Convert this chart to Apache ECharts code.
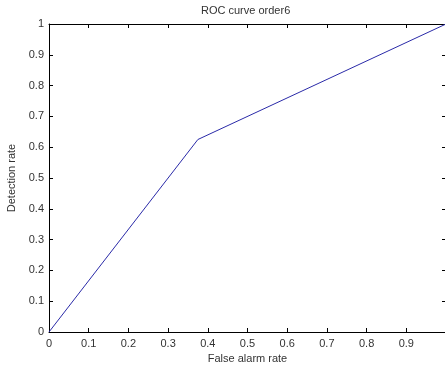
<!DOCTYPE html>
<html><head><meta charset="utf-8">
<script src="https://cdn.jsdelivr.net/npm/echarts@6/dist/echarts.min.js"></script>
<style>html,body{margin:0;padding:0;background:#fff}#c{width:445px;height:369px}</style>
</head><body><div id="c"></div>
<script>
var falseAlarm = [0, 0.375, 1];
var detection = [0, 0.625, 1];
var xTicks = ['0','0.1','0.2','0.3','0.4','0.5','0.6','0.7','0.8','0.9',''];
var yTicks = ['0','0.1','0.2','0.3','0.4','0.5','0.6','0.7','0.8','0.9','1'];
var titleText = 'ROC curve order6';
var xName = 'False alarm rate';
var yName = 'Detection rate';

var data = falseAlarm.map(function(x,i){return [x, detection[i]];});
var font = 'Liberation Sans, Arial, sans-serif';
var txt = '#333';
var chart = echarts.init(document.getElementById('c'), null, {renderer:'canvas'});
function lbl(arr){return function(v){var i=Math.round(v*10);return arr[i]!==undefined?arr[i]:'';};}
var tick = {show:true,inside:true,length:4,lineStyle:{color:'#000',width:1}};
function axisBase(pos){
  return {type:'value',min:0,max:1,interval:0.1,position:pos,
    axisLine:{show:true,onZero:false,lineStyle:{color:'#000',width:1}},axisTick:tick,
    axisLabel:{show:false},splitLine:{show:false}};
}
var xb = axisBase('bottom');
xb.name = xName; xb.nameLocation='middle'; xb.nameGap=20;
xb.nameTextStyle={fontFamily:font,fontSize:11,color:txt};
xb.axisLabel={show:true,formatter:lbl(xTicks),fontFamily:font,fontSize:11,color:txt,margin:6};
var yl = axisBase('left');
yl.name = yName; yl.nameLocation='middle'; yl.nameGap=21;
yl.nameTextStyle={fontFamily:font,fontSize:11,color:txt};
yl.axisLabel={show:true,formatter:lbl(yTicks),fontFamily:font,fontSize:11,color:txt,margin:5};
chart.setOption({
  animation:false,
  backgroundColor:'#fff',
  title:{text:titleText,left:201,top:5,padding:0,textStyle:{fontFamily:font,fontSize:11,fontWeight:'normal',color:txt}},
  grid:{left:49,width:397,top:24,height:308,containLabel:false,outerBoundsMode:'none'},
  xAxis:[xb, axisBase('top')],
  yAxis:[yl, axisBase('right')],
  series:[{type:'line',data:data,xAxisIndex:0,yAxisIndex:0,symbol:'none',
    lineStyle:{color:'#2a2aa8',width:1}}]
});
</script></body></html>
